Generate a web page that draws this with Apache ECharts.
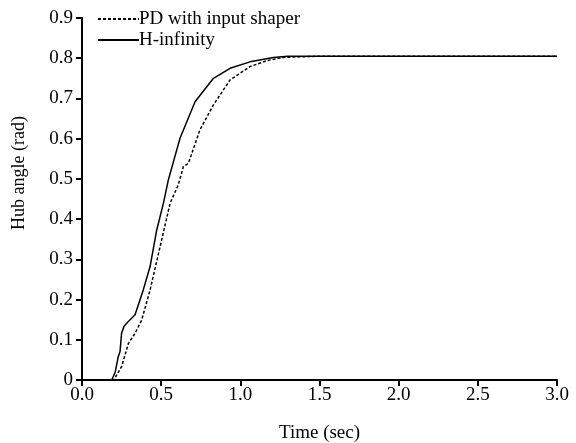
<!DOCTYPE html>
<html><head><meta charset="utf-8">
<script src="https://cdn.jsdelivr.net/npm/echarts@6/dist/echarts.min.js"></script>
<style>html,body{margin:0;padding:0;background:#fff}#c{width:576px;height:443px}</style>
</head><body><div id="c"></div>
<script>
const pdTime  = [0, 0.20, 0.25, 0.293, 0.335, 0.377, 0.43, 0.493, 0.556, 0.608, 0.64, 0.672, 0.745, 0.83, 0.935, 1.061, 1.167, 1.27, 1.5, 2.0, 2.5, 3.0];
const pdAngle = [0, 0, 0.033, 0.091, 0.116, 0.149, 0.224, 0.331, 0.439, 0.485, 0.530, 0.539, 0.622, 0.684, 0.746, 0.779, 0.794, 0.802, 0.805, 0.805, 0.805, 0.805];
const hiTime  = [0, 0.188, 0.21, 0.229, 0.24, 0.25, 0.265, 0.282, 0.335, 0.387, 0.43, 0.472, 0.514, 0.545, 0.619, 0.714, 0.83, 0.935, 1.061, 1.209, 1.3, 2.0, 3.0];
const hiAngle = [0, 0, 0.02, 0.058, 0.07, 0.116, 0.133, 0.141, 0.162, 0.224, 0.282, 0.373, 0.439, 0.497, 0.601, 0.692, 0.750, 0.775, 0.791, 0.802, 0.805, 0.805, 0.805];
const seriesNames = ['PD with input shaper', 'H-infinity'];

const font = 'Liberation Serif';
const chart = echarts.init(document.getElementById('c'));
const zip = (a, b) => a.map((t, i) => [t, b[i]]);
chart.setOption({
  animation: false,
  backgroundColor: '#fff',
  textStyle: { fontFamily: font, color: '#000' },
  grid: { left: 82, right: 19, top: 18, bottom: 63, containLabel: false, outerBoundsMode: 'none' },
  legend: {
    orient: 'vertical', left: 92, top: 4, itemWidth: 41, itemHeight: 14, itemGap: 1,
    itemStyle: { color: 'rgba(0,0,0,0)', borderWidth: 0, opacity: 0 },
    textStyle: { fontFamily: font, fontSize: 19, lineHeight: 20, color: '#000', padding: [0, 0, 0, -5] },
    data: seriesNames
  },
  xAxis: {
    type: 'value', min: 0, max: 3, interval: 0.5,
    name: 'Time (sec)', nameLocation: 'middle', nameGap: 44,
    nameTextStyle: { fontFamily: font, fontSize: 19, color: '#000' },
    axisLine: { lineStyle: { color: '#000', width: 2 } },
    axisTick: { inside: false, length: 6, lineStyle: { color: '#000', width: 2 } },
    axisLabel: { fontFamily: font, fontSize: 19, color: '#000', margin: 6, formatter: v => v.toFixed(1) },
    splitLine: { show: false }
  },
  yAxis: {
    type: 'value', min: 0, max: 0.9, interval: 0.1,
    name: 'Hub angle (rad)', nameLocation: 'middle', nameGap: 54,
    nameTextStyle: { fontFamily: font, fontSize: 18, color: '#000', padding: [0, 0, 0, 52] },
    axisLine: { show: true, lineStyle: { color: '#000', width: 2 } },
    axisTick: { show: true, inside: false, length: 6, lineStyle: { color: '#000', width: 2 } },
    axisLabel: { fontFamily: font, fontSize: 19, color: '#000', margin: 9, formatter: v => v === 0 ? '0' : v.toFixed(1) },
    splitLine: { show: false }
  },
  series: [
    { name: seriesNames[0], type: 'line', symbol: 'none', data: zip(pdTime, pdAngle),
      lineStyle: { color: '#000', width: 1.5, type: [3, 2] }, itemStyle: { color: '#000' } },
    { name: seriesNames[1], type: 'line', symbol: 'none', data: zip(hiTime, hiAngle),
      lineStyle: { color: '#000', width: 1.5 }, itemStyle: { color: '#000' } }
  ]
});
</script></body></html>
